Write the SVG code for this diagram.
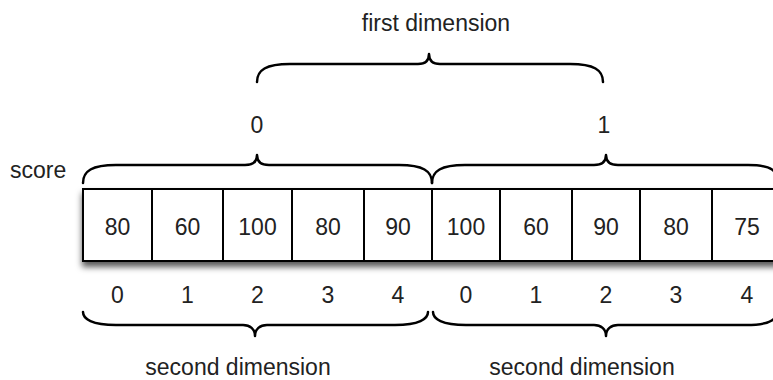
<svg xmlns="http://www.w3.org/2000/svg" width="773" height="380" viewBox="0 0 773 380">
<defs>
<style>
text{font-family:"Liberation Sans",Arial,sans-serif;font-size:23px;fill:#222;}
.m{text-anchor:middle;}
.brace{fill:none;stroke:#000;stroke-width:2.5;stroke-linecap:round;stroke-linejoin:round;}
.cell{fill:#fff;stroke:#000;stroke-width:2;}
</style>
<filter id="sh" x="-5%" y="-20%" width="110%" height="150%">
<feDropShadow dx="0" dy="5" stdDeviation="3" flood-color="#000" flood-opacity="0.65"/>
</filter>
</defs>
<rect width="773" height="380" fill="#fff"/>
<text class="m" x="436" y="31">first dimension</text>
<text class="m" x="257" y="133">0</text>
<text class="m" x="604" y="133">1</text>
<text x="10" y="178">score</text>
<g id="array">
<rect class="cell" x="83" y="189" width="700" height="72" filter="url(#sh)"/>
<g id="cells" stroke="#000" stroke-width="2">
<line x1="152" y1="189" x2="152" y2="261"/>
<line x1="223" y1="189" x2="223" y2="261"/>
<line x1="292" y1="189" x2="292" y2="261"/>
<line x1="364" y1="189" x2="364" y2="261"/>
<line x1="432" y1="189" x2="432" y2="261"/>
<line x1="500" y1="189" x2="500" y2="261"/>
<line x1="572" y1="189" x2="572" y2="261"/>
<line x1="640" y1="189" x2="640" y2="261"/>
<line x1="712" y1="189" x2="712" y2="261"/>
</g>
<g class="vals">
<text class="m" x="117.5" y="235">80</text>
<text class="m" x="187.5" y="235">60</text>
<text class="m" x="257.5" y="235">100</text>
<text class="m" x="328" y="235">80</text>
<text class="m" x="398" y="235">90</text>
<text class="m" x="466" y="235">100</text>
<text class="m" x="536" y="235">60</text>
<text class="m" x="606" y="235">90</text>
<text class="m" x="676" y="235">80</text>
<text class="m" x="747" y="235">75</text>
</g>
</g>
<g id="indices">
<text class="m" x="117.5" y="303">0</text>
<text class="m" x="187.5" y="303">1</text>
<text class="m" x="257.5" y="303">2</text>
<text class="m" x="328" y="303">3</text>
<text class="m" x="398" y="303">4</text>
<text class="m" x="466" y="303">0</text>
<text class="m" x="536" y="303">1</text>
<text class="m" x="606" y="303">2</text>
<text class="m" x="676" y="303">3</text>
<text class="m" x="747" y="303">4</text>
</g>
<g id="braces">
<path class="brace" d="M257,82 C257,70 266,64 290,64 L418,64 C425,64 429,61 429,54 C429,61 433,64 440,64 L570,64 C594,64 603,70 603,82"/>
<path class="brace" d="M83,183 C83,171 92,165 116,165 L245,165 C252,165 257,162 257,155 C257,162 262,165 269,165 L399,165 C423,165 432,171 432,183"/>
<path class="brace" d="M432,183 C432,171 441,165 465,165 L594,165 C601,165 606,162 606,155 C606,162 611,165 618,165 L748,165 C772,165 778,171 778,183"/>
<path class="brace" d="M83,312 C83,319 92,325 116,325 L243,325 C250,325 255,329 255,336 C255,329 260,325 267,325 L395,325 C419,325 428,319 428,312"/>
<path class="brace" d="M433,312 C433,319 442,325 466,325 L594,325 C601,325 606,329 606,336 C606,329 611,325 618,325 L746,325 C770,325 777,319 777,312"/>
</g>
<text class="m" x="238" y="375">second dimension</text>
<text class="m" x="582" y="375">second dimension</text>
</svg>
